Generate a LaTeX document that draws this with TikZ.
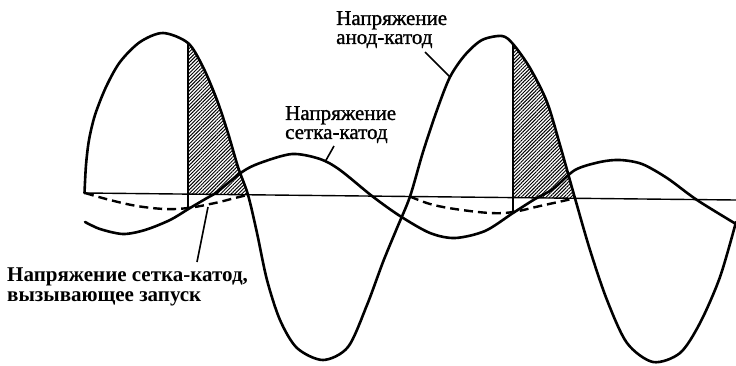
\documentclass[tikz,border=0pt]{standalone}
\usepackage{fontspec}
\setmainfont{Liberation Serif}
\newfontfamily\heavyserif[FakeBold=1.2]{Liberation Serif}
\usetikzlibrary{patterns.meta}
\begin{document}
\begin{tikzpicture}[x=1pt,y=-1pt,
  wave/.style={line width=2.6pt,line join=round,line cap=round},
  crit/.style={line width=2.4pt,dash pattern=on 9pt off 5pt},
  axisline/.style={line width=1.4pt},
  mark line/.style={line width=1.4pt},
  leader/.style={line width=1.6pt},
  hatch/.style={pattern={Lines[angle=45,distance=2.5pt,line width=0.95pt]}},
  lbl/.style={inner sep=0pt,anchor=north west,align=left,font=\fontsize{21}{19}\heavyserif},
  lblb/.style={inner sep=0pt,anchor=north west,align=left,font=\fontsize{21}{19.5}\selectfont\bfseries}]
\useasboundingbox (0,0) rectangle (736,365);
\fill[white] (0,0) rectangle (736,365);
% key coordinates
\coordinate (ax0) at (85,193);
\coordinate (ax1) at (736,200);
\coordinate (f1) at (188,208);
\coordinate (t1) at (188,43);
\coordinate (b1) at (188,194.1);
\coordinate (c1) at (248,194.8);
\coordinate (f2) at (513,212);
\coordinate (t2) at (513,44);
\coordinate (b2) at (513,197.6);
\coordinate (c2) at (575,198.3);
% hatched regions
\begin{scope}
  \clip plot[smooth,tension=0.5] coordinates {(84.5,193) (86,165) (89,140) (95,115) (106,87) (120,62) (140,42) (163,33) (188,43) (203,67) (217,100) (228,133) (238,167) (248,194.8)} -- cycle;
  \fill[hatch] (b1) -- (t1) -- (260,20) -- (c1) -- cycle;
\end{scope}
\begin{scope}
  \clip plot[smooth,tension=0.5] coordinates {(410,196.5) (423,152) (437,110) (450,77) (465,55) (482,40) (502,36) (513,44) (530,68) (547,102) (560,145) (575,198.3)} -- cycle;
  \fill[hatch] (b2) -- (t2) -- (590,20) -- (c2) -- cycle;
\end{scope}
% axis
\draw[axisline] (ax0) -- (ax1);
% vertical firing lines
\draw[mark line] (t1) -- (f1);
\draw[mark line] (t2) -- (f2);
% critical grid voltage (dashed)
\draw[crit] plot[smooth,tension=0.6] coordinates {(85,193) (110,200) (137,206) (165,209) (188,208) (215,203) (235,198) (248,194.8)};
\draw[crit] plot[smooth,tension=0.6] coordinates {(410,196.5) (430,204) (455,209) (490,213) (513,212) (540,206) (575,198.3)};
% anode-cathode voltage
\draw[wave] plot[smooth,tension=0.5] coordinates {(84.5,193) (86,165) (89,140) (95,115) (106,87) (120,62) (140,42) (163,33) (188,43) (203,67) (217,100) (228,133) (238,167) (248,194.8) (257,233) (267,280) (280,320) (297,348) (323,360) (348,347) (367,305) (383,262) (397,228) (410,196.5) (423,152) (437,110) (450,77) (465,55) (482,40) (502,36) (513,44) (530,68) (547,102) (560,145) (575,198.3) (590,250) (607,300) (627,343) (653,362) (680,353) (700,323) (720,277) (736,222)};
% grid-cathode voltage
\draw[wave] plot[smooth,tension=0.5] coordinates {(85,222) (100,229) (123,234) (145,230) (170,220) (190,208) (207,198) (217,192) (242,172) (260,163) (292,154) (320,159) (340,170) (372,196) (400,216) (430,233) (455,238) (485,231) (513,213) (535,199) (553,189) (575,170) (600,162) (620,160) (642,164) (667,178) (697,200) (736,224)};
% labels
\node[lbl] (lblA) at (336,11) {Напряжение\\анод-катод};
\node[lbl] (lblG) at (285,106) {Напряжение\\сетка-катод};
\node[lblb] (lblT) at (7,268) {Напряжение сетка-катод,\\вызывающее запуск};
% leaders
\coordinate (qA0) at (425,52);
\coordinate (qA1) at (450,77);
\coordinate (qG0) at (334,146);
\coordinate (qG1) at (325,162);
\coordinate (qT0) at (197,262);
\coordinate (qT1) at (208,207);
\draw[leader] (qA0) -- (qA1);
\draw[leader] (qG0) -- (qG1);
\draw[leader] (qT0) -- (qT1);
\end{tikzpicture}
\end{document}
